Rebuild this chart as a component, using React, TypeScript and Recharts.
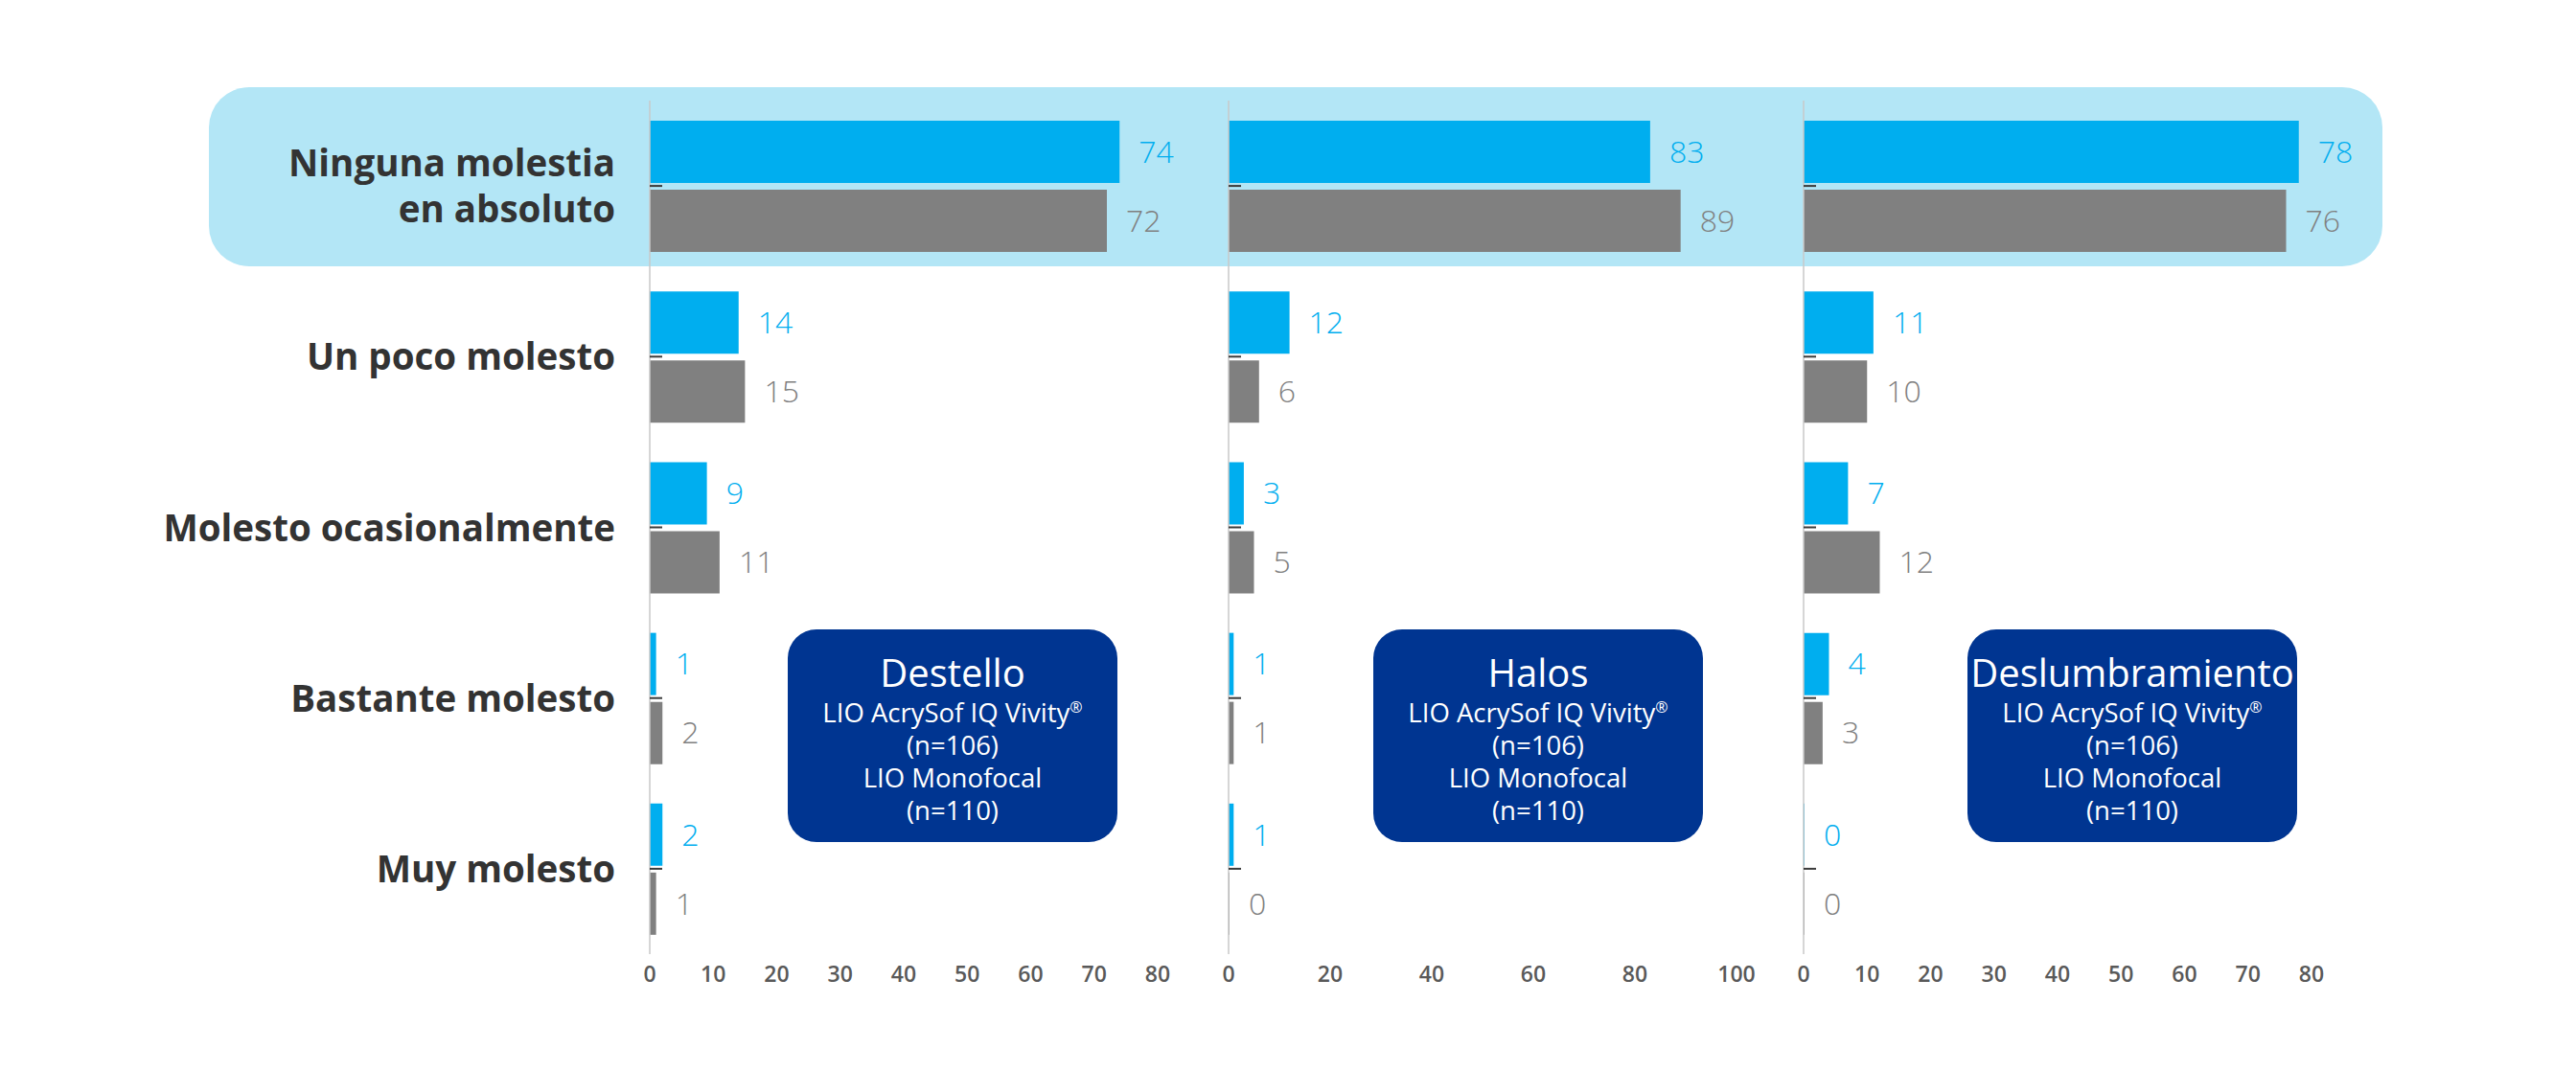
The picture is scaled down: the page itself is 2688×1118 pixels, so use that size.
import React from 'react';
import { BarChart, Bar, XAxis, YAxis, LabelList } from 'recharts';

const categories = [
  'Ninguna molestia\nen absoluto',
  'Un poco molesto',
  'Molesto ocasionalmente',
  'Bastante molesto',
  'Muy molesto',
];

const destelloVivity = [74, 14, 9, 1, 2];
const destelloMonofocal = [72, 15, 11, 2, 1];
const halosVivity = [83, 12, 3, 1, 1];
const halosMonofocal = [89, 6, 5, 1, 0];
const deslumbramientoVivity = [78, 11, 7, 4, 0];
const deslumbramientoMonofocal = [76, 10, 12, 3, 0];

const ticks80 = [0, 10, 20, 30, 40, 50, 60, 70, 80];
const ticks100 = [0, 20, 40, 60, 80, 100];

const BLUE = '#00AEEF';
const GRAY = '#808080';
const FONT = '"Open Sans", "Noto Sans", sans-serif';

function CategoryTick({ x, y, payload, showLabel }: any) {
  const lines = String(payload.value).split('\n');
  const lineHeight = 48;
  const first = y + 14 - ((lines.length - 1) * lineHeight) / 2;
  return (
    <g>
      <line x1={x} x2={x + 13} y1={y} y2={y} stroke='#3a3a3a' strokeWidth={2} />
      {showLabel && (
        <text
          x={x - 36}
          y={first}
          textAnchor='end'
          fill='#333333'
          fontSize={38.5}
          fontWeight={700}
          fontFamily={FONT}
        >
          {lines.map((l, i) => (
            <tspan key={i} x={x - 36} y={first + i * lineHeight}>
              {l}
            </tspan>
          ))}
        </text>
      )}
    </g>
  );
}

interface PanelProps {
  left: number;
  axisWidth: number;
  rightMargin: number;
  vivity: number[];
  monofocal: number[];
  domainMax: number;
  ticks: number[];
  showLabels?: boolean;
}

function Panel({
  left,
  axisWidth,
  rightMargin,
  vivity,
  monofocal,
  domainMax,
  ticks,
  showLabels,
}: PanelProps) {
  const data = categories.map((name, i) => ({
    name,
    vivity: vivity[i],
    monofocal: monofocal[i],
  }));

  return (
    <div style={{ position: 'absolute', left, top: 0 }}>
      <BarChart
        width={axisWidth + 530 + rightMargin}
        height={1040}
        data={data}
        layout='vertical'
        margin={{ top: 105, right: rightMargin, bottom: 0, left: 0 }}
        barCategoryGap='11.8%'
        barGap={7}
      >
        <XAxis
          type='number'
          domain={[0, domainMax]}
          ticks={ticks}
          interval={0}
          axisLine={false}
          tickLine={false}
          tickSize={0}
          tickMargin={13}
          height={44}
          tick={{ fill: '#595959', fontSize: 23, fontWeight: 600, fontFamily: FONT }}
        />
        <YAxis
          type='category'
          dataKey='name'
          width={axisWidth}
          interval={0}
          axisLine={{ stroke: '#c8c8c8', strokeWidth: 1.5 }}
          tickLine={false}
          tickSize={0}
          tickMargin={0}
          tick={<CategoryTick showLabel={showLabels} />}
        />
        <Bar dataKey='vivity' fill={BLUE} minPointSize={1} isAnimationActive={false}>
          <LabelList
            dataKey='vivity'
            position='right'
            offset={20}
            fill={BLUE}
            fontSize={32}
            fontWeight={300}
            fontFamily={FONT}
          />
        </Bar>
        <Bar dataKey='monofocal' fill={GRAY} minPointSize={1} isAnimationActive={false}>
          <LabelList
            dataKey='monofocal'
            position='right'
            offset={20}
            fill={GRAY}
            fontSize={32}
            fontWeight={300}
            fontFamily={FONT}
          />
        </Bar>
      </BarChart>
    </div>
  );
}

function InfoBox({ left, title }: { left: number; title: string }) {
  const line = { fontSize: 27.5, lineHeight: '34px' };
  return (
    <div
      style={{
        position: 'absolute',
        left,
        top: 657,
        width: 344,
        height: 222,
        boxSizing: 'border-box',
        paddingTop: 20,
        background: '#003591',
        borderRadius: 30,
        color: '#ffffff',
        textAlign: 'center',
        fontFamily: FONT,
        whiteSpace: 'nowrap',
      }}
    >
      <div style={{ fontSize: 40, lineHeight: '50px' }}>{title}</div>
      <div style={line}>
        LIO AcrySof IQ Vivity
        <sup style={{ fontSize: 16, lineHeight: 0 }}>®</sup>
      </div>
      <div style={line}>(n=106)</div>
      <div style={line}>LIO Monofocal</div>
      <div style={line}>(n=110)</div>
    </div>
  );
}

export default function App() {
  return (
    <div
      style={{
        position: 'absolute',
        left: 0,
        top: 0,
        width: 2688,
        height: 1118,
        background: '#ffffff',
        overflow: 'hidden',
      }}
    >
      <div
        style={{
          position: 'absolute',
          left: 218,
          top: 91,
          width: 2268,
          height: 187,
          borderRadius: 42,
          background: '#B3E6F6',
        }}
      />
      <Panel
        left={0}
        axisWidth={678}
        rightMargin={32}
        vivity={destelloVivity}
        monofocal={destelloMonofocal}
        domainMax={80}
        ticks={ticks80}
        showLabels
      />
      <Panel
        left={1240}
        axisWidth={42}
        rightMargin={28}
        vivity={halosVivity}
        monofocal={halosMonofocal}
        domainMax={100}
        ticks={ticks100}
      />
      <Panel
        left={1840}
        axisWidth={42}
        rightMargin={50}
        vivity={deslumbramientoVivity}
        monofocal={deslumbramientoMonofocal}
        domainMax={80}
        ticks={ticks80}
      />
      <InfoBox left={822} title='Destello' />
      <InfoBox left={1433} title='Halos' />
      <InfoBox left={2053} title='Deslumbramiento' />
    </div>
  );
}
